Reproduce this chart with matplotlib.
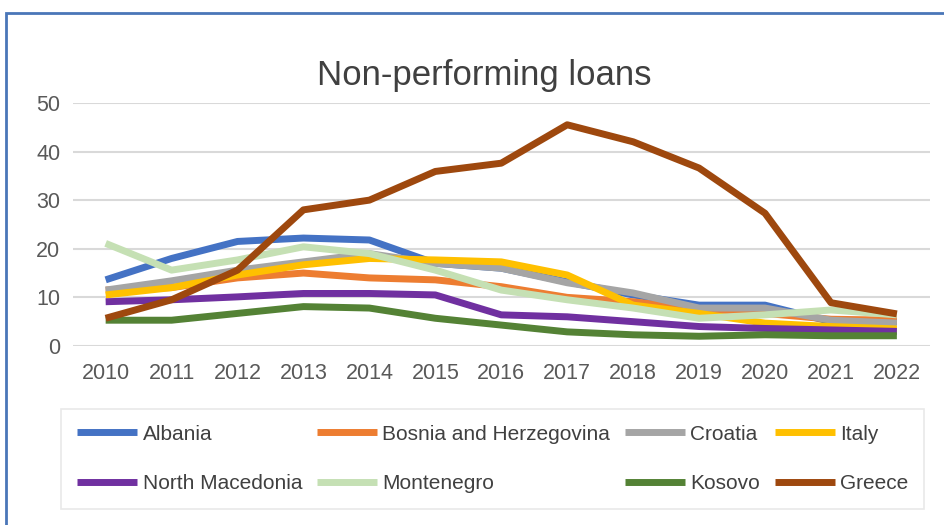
import matplotlib
matplotlib.use("Agg")
import matplotlib.pyplot as plt
from matplotlib.patches import Rectangle

plt.rcParams['font.family'] = ['Liberation Sans', 'DejaVu Sans']

years = list(range(2010, 2023))

albania = [13.6, 18.0, 21.5, 22.2, 21.8, 17.0, 16.0, 13.2, 10.5, 8.4, 8.4, 5.0, 5.0]
bosnia = [11.5, 12.0, 14.0, 15.0, 14.0, 13.6, 12.2, 10.0, 9.1, 7.5, 6.7, 5.5, 5.3]
croatia = [11.5, 13.4, 15.6, 17.3, 19.0, 17.0, 16.0, 13.0, 10.9, 7.8, 7.8, 5.3, 4.7]
italy = [10.5, 12.0, 14.6, 16.7, 18.0, 17.7, 17.3, 14.6, 8.4, 6.7, 4.7, 4.0, 3.5]
north_macedonia = [9.1, 9.5, 10.1, 10.8, 10.8, 10.5, 6.4, 6.0, 5.0, 4.0, 3.6, 3.3, 3.0]
montenegro = [21.1, 15.6, 17.7, 20.4, 19.0, 15.6, 11.5, 9.5, 7.8, 5.7, 6.4, 7.4, 6.4]
kosovo = [5.3, 5.3, 6.7, 8.1, 7.8, 5.7, 4.3, 2.9, 2.3, 2.0, 2.3, 2.1, 2.1]
greece = [5.7, 9.5, 15.6, 28.0, 30.0, 35.9, 37.6, 45.5, 42.0, 36.6, 27.3, 8.9, 6.6]

series = [
    ("Albania", albania, "#4472C4"),
    ("Bosnia and Herzegovina", bosnia, "#ED7D31"),
    ("Croatia", croatia, "#A5A5A5"),
    ("Italy", italy, "#FFC000"),
    ("North Macedonia", north_macedonia, "#7030A0"),
    ("Montenegro", montenegro, "#C5E0B4"),
    ("Kosovo", kosovo, "#548235"),
    ("Greece", greece, "#9E480E"),
]

fig = plt.figure(figsize=(9.44, 5.25), dpi=100)
ax = fig.add_axes([0.077, 0.341, 0.908, 0.463])

lines = {}
for name, vals, color in series:
    ln, = ax.plot(years, vals, color=color, lw=5, solid_capstyle='butt',
                  solid_joinstyle='round', label=name)
    lines[name] = ln

ax.set_xlim(2009.5, 2022.5)
ax.set_ylim(0, 50)
ax.set_yticks(range(0, 51, 10))
ax.set_xticks(years)
ax.grid(axis='y', color='#D9D9D9', lw=1.5)
ax.set_axisbelow(True)
for s in ax.spines.values():
    s.set_visible(False)
ax.tick_params(length=0, labelsize=15.5, colors='#595959')
ax.tick_params(axis='x', pad=12)
ax.tick_params(axis='y', pad=9)

fig.text(0.513, 0.857, "Non-performing loans", ha='center', va='center',
         fontsize=25, color='#404040')

# legend fills column-wise, so order entries to read row by row
order = ["Albania", "North Macedonia", "Bosnia and Herzegovina", "Montenegro",
         "Croatia", "Kosovo", "Italy", "Greece"]
leg = fig.legend([lines[n] for n in order], order, ncol=4,
                 loc='center', bbox_to_anchor=(0.522, 0.126),
                 frameon=True, fancybox=False, fontsize=15,
                 handlelength=2.9, handletextpad=0.25, columnspacing=0.7,
                 labelspacing=1.45, borderpad=0.75, borderaxespad=0)
leg.get_frame().set_edgecolor('#E3E3E3')
leg.get_frame().set_linewidth(1.2)
for t in leg.get_texts():
    t.set_color('#404040')

# chart border
fig.patches.append(Rectangle((0.006, -0.05), 1.1, 1.025, transform=fig.transFigure,
                             fill=False, edgecolor='#4A76B8', lw=2.0))

fig.savefig("out.png", dpi=100)
